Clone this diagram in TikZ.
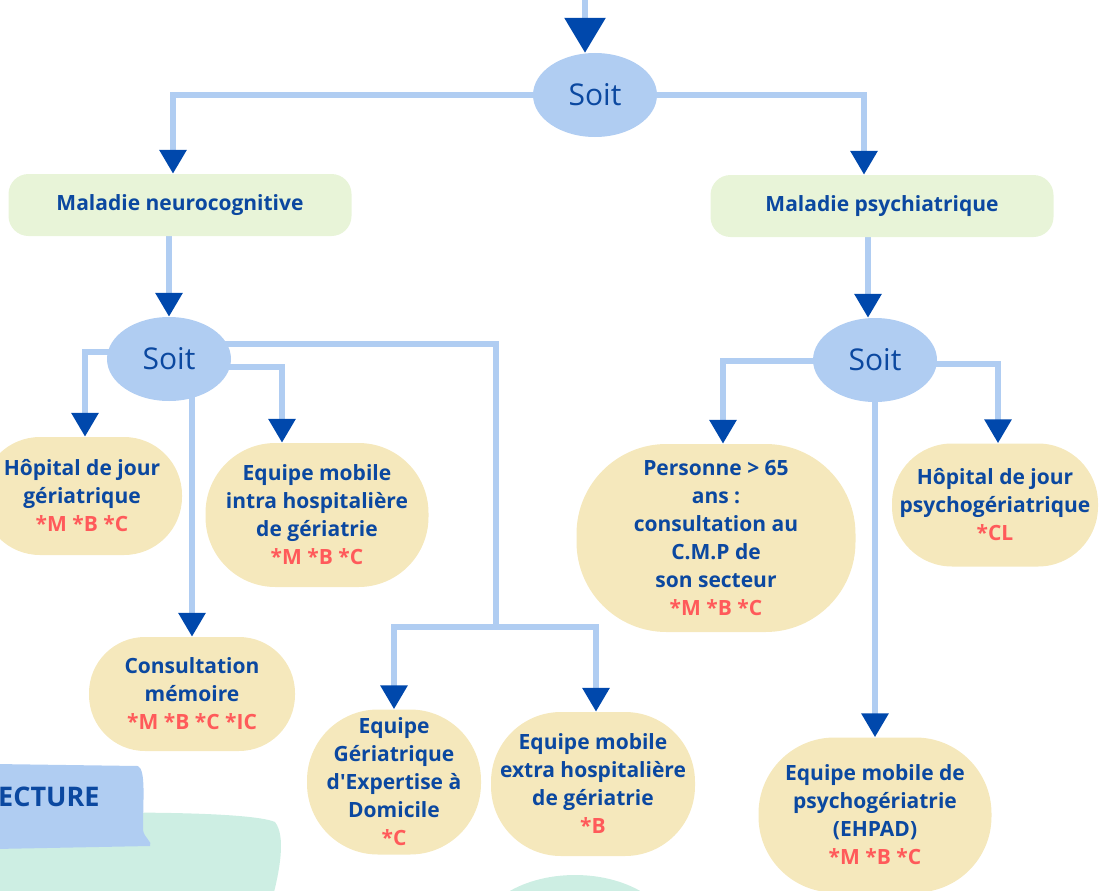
\documentclass[tikz,border=0pt]{standalone}
\usepackage{fontspec}
\setmainfont{Open Sans}
\usetikzlibrary{arrows.meta}
\usetikzlibrary{shapes.geometric}
\usetikzlibrary{backgrounds}

\definecolor{linkblue}{HTML}{B0CDF2}
\definecolor{tipblue}{HTML}{0048AC}
\definecolor{textblue}{HTML}{0B48A0}
\definecolor{codered}{HTML}{FF5A5A}
\definecolor{boxyellow}{HTML}{F5E8BC}
\definecolor{boxgreen}{HTML}{E8F4D8}
\definecolor{mint}{HTML}{CDEEE3}

\tikzset{
  soit/.style={ellipse, fill=linkblue, text=textblue, inner sep=0pt,
    font=\fontsize{30}{32}\selectfont, minimum width=124pt, minimum height=84pt},
  maladie/.style={rectangle, rounded corners=20pt, fill=boxgreen, text=textblue,
    font=\bfseries\fontsize{21}{24}\selectfont, minimum width=343pt, minimum height=62pt},
  offre/.style={rectangle, rounded corners=#1, fill=boxyellow, text=textblue,
    align=center, inner sep=0pt, font=\bfseries\fontsize{21}{28}\selectfont},
  offre/.default=56pt,
  trunk/.style={draw=linkblue, line width=6pt},
  link/.style={trunk, -{Triangle[width=26pt,length=24pt,color=tipblue]}},
}
\newcommand{\codes}[1]{\textcolor{codered}{#1}}

\begin{document}
\begin{tikzpicture}[x=1pt,y=-1pt]
        \useasboundingbox (0,0) rectangle (1100,891);

        \fill[mint] (-5,815) .. controls (100,811) and (250,811) .. (275,822)
          .. controls (286,836) and (280,870) .. (272,900) -- (-5,900) -- cycle;
        \fill[mint] (575,941) ellipse [x radius=100pt, y radius=66pt];
        \fill[linkblue] (-5,764) -- (138,766) .. controls (146,770) and (143,800) .. (143,830)
          .. controls (144,838) and (153,842) .. (150,846) -- (-5,849) -- cycle;
        \node[anchor=west, inner sep=0pt, text=textblue,
          font=\bfseries\fontsize{27}{30}\selectfont] (lecture) at (-2,797) {ECTURE};

        \node[soit] (soitA) at (595,95) {Soit};
        \node[maladie] (neuro) at (180,205) {Maladie neurocognitive};
        \node[maladie] (psy) at (882,206) {Maladie psychiatrique};
        \node[soit] (soitB) at (169,359) {Soit};
        \node[soit] (soitC) at (875,360) {Soit};

        \node[offre=58pt, minimum width=200pt, minimum height=118pt] (hdjger) at (82,496)
          {H\^opital de jour\\g\'eriatrique\\\codes{*M *B *C}};
        \node[offre=70pt, minimum width=223pt, minimum height=144pt] (intra) at (317,515)
          {Equipe mobile\\intra hospitali\`ere\\de g\'eriatrie\\\codes{*M *B *C}};
        \node[offre, minimum width=206pt, minimum height=114pt] (memoire) at (192,694)
          {Consultation\\m\'emoire\\\codes{*M *B *C *IC}};
        \node[offre=71pt, minimum width=174pt, minimum height=145pt] (gedom) at (394,782)
          {Equipe\\G\'eriatrique\\d\textquotesingle Expertise \`a\\Domicile\\\codes{*C}};
        \node[offre=70pt, minimum width=204pt, minimum height=144pt] (extra) at (593,784)
          {Equipe mobile\\extra hospitali\`ere\\de g\'eriatrie\\\codes{*B}};
        \node[offre=90pt, minimum width=279pt, minimum height=188pt] (cmp) at (716,538)
          {Personne > 65\\ans :\\consultation au\\C.M.P de\\son secteur\\\codes{*M *B *C}};
        \node[offre=60pt, minimum width=206pt, minimum height=123pt] (hdjpsy) at (995,505)
          {H\^opital de jour\\psychog\'eriatrique\\\codes{*CL}};
        \node[offre=76pt, minimum width=233pt, minimum height=155pt] (ehpad) at (875,815)
          {Equipe mobile de\\psychog\'eriatrie\\(EHPAD)\\\codes{*M *B *C}};

        \coordinate (entry) at (585,-10);
        \coordinate (split) at (496,627);

        \begin{scope}[on background layer]
          \draw[trunk, -{Triangle[width=40pt,length=35pt,color=tipblue]}] (entry) -- (entry |- soitA.north);
          \draw[link] (soitA.center) -| ([xshift=-7pt]neuro.north);
          \draw[link] (soitA.center) -| ([xshift=-18pt]psy.north);
          \draw[link] (neuro.south -| soitB.north) -- (soitB.north);
          \draw[link] ([xshift=-7pt]psy.south -| soitC.north) -- ([xshift=-7pt]soitC.north);

          \draw[link] ([yshift=7pt]soitB.center) -| ([xshift=3pt]hdjger.north);
          \draw[link] (soitB.center -| memoire.north) -- (memoire.north);
          \draw[link] ([yshift=-8pt]soitB.center) -| ([xshift=-35pt]intra.north);
          \draw[trunk] ([yshift=15pt]soitB.center) -| (split);
          \draw[link] (split) -| (gedom.north);
          \draw[link] (split) -| ([xshift=3pt]extra.north);

          \draw[link] ([yshift=-1pt]soitC.center) -| ([xshift=7pt]cmp.north);
          \draw[link] ([yshift=-4pt]soitC.center) -| ([xshift=3pt]hdjpsy.north);
          \draw[link] (soitC.center) -- (ehpad.north);
        \end{scope}
      \end{tikzpicture}
\end{document}
